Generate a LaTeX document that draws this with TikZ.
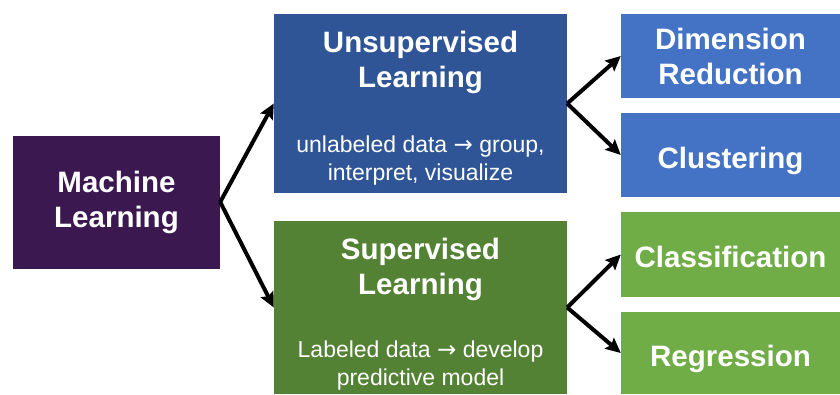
\documentclass[tikz,border=0pt]{standalone}
\usepackage{fontspec}
\setmainfont{Liberation Sans}
\newfontfamily\arrowfont{DejaVu Sans}
\usetikzlibrary{arrows.meta,calc}
\definecolor{mlpurple}{HTML}{3B1850}
\definecolor{unsupblue}{HTML}{2F5597}
\definecolor{supgreen}{HTML}{548235}
\definecolor{leafblue}{HTML}{4472C4}
\definecolor{leafgreen}{HTML}{70AD47}
\newcommand{\toarrow}{{\arrowfont →}}
\begin{document}
\begin{tikzpicture}[x=1pt,y=-1pt,
  box/.style={draw=none, inner sep=0pt, text=white, align=center},
  bigtext/.style={font=\fontsize{29.5}{35}\selectfont\bfseries},
  oneline/.style={text height=26pt, text depth=0pt},
  titletext/.style={font=\fontsize{29.5}{35}\selectfont\bfseries, text=white, align=center, inner sep=0pt, anchor=base},
  subtext/.style={font=\fontsize{23}{28}\selectfont, text=white, align=center, inner sep=0pt, anchor=base},
  conn/.style={line width=4pt, -{Stealth[length=15pt,width=14pt,inset=2.5pt]}}]
\useasboundingbox (0,0) rectangle (840,394);

% root
\node[box, bigtext, fill=mlpurple, minimum width=207pt, minimum height=133pt] (ml) at (116.5,202) {Machine\\Learning};

% learning families (base anchor sits on the last line)
\node[box, fill=unsupblue, minimum width=293pt, minimum height=179pt] (unsup) at (420.5,103.5) {};
\node[titletext] (unsupt) at (420.5,87) {Unsupervised\\Learning};
\node[subtext] (unsups) at (420.5,180) {unlabeled data \toarrow{} group,\\interpret, visualize};

\node[box, fill=supgreen, minimum width=293pt, minimum height=173pt] (sup) at (420.5,307.5) {};
\node[titletext] (supt) at (420.5,294) {Supervised\\Learning};
\node[subtext] (sups) at (420.5,385) {Labeled data \toarrow{} develop\\predictive model};

% tasks
\node[box, bigtext, fill=leafblue, minimum width=219pt, minimum height=84pt] (dr) at (730.5,56) {Dimension\\Reduction};
\node[box, bigtext, oneline, fill=leafblue, minimum width=219pt, minimum height=84pt] (cl) at (730.5,155) {Clustering};
\node[box, bigtext, oneline, fill=leafgreen, minimum width=219pt, minimum height=85pt] (cf) at (730.5,254.5) {Classification};
\node[box, bigtext, oneline, fill=leafgreen, minimum width=219pt, minimum height=82pt] (rg) at (730.5,353) {Regression};

% connectors
\draw[conn] (ml.east) -- (unsup.west);
\draw[conn] (ml.east) -- (sup.west);
\draw[conn] (unsup.east) -- (dr.west);
\draw[conn] (unsup.east) -- (cl.west);
\draw[conn] (sup.east) -- (cf.west);
\draw[conn] (sup.east) -- (rg.west);
\end{tikzpicture}
\end{document}
